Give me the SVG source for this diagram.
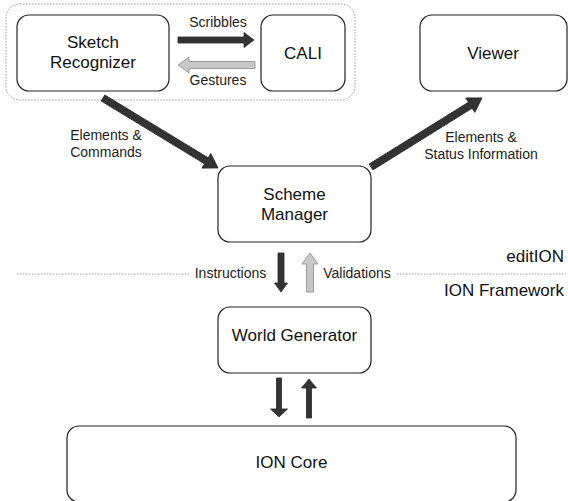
<svg xmlns="http://www.w3.org/2000/svg" width="568" height="501" viewBox="0 0 568 501">
<style>
.box{fill:#fff;stroke:#222;stroke-width:1.2}
.t{font-family:"Liberation Sans",Arial,sans-serif;font-size:17px;fill:#111;text-anchor:middle}
.s{font-family:"Liberation Sans",Arial,sans-serif;font-size:14px;fill:#222;text-anchor:middle}
.dark{fill:#333;stroke:#2a2a2a;stroke-width:0.8}
.light{fill:#c8c8c8;stroke:#8a8a8a;stroke-width:0.8}
.dot{fill:none;stroke:#999;stroke-width:1;stroke-dasharray:1.5,1.5}
</style>
<rect class="dot" x="6" y="4" width="349" height="96" rx="14"/>
<line class="dot" x1="17" y1="274" x2="189" y2="274"/>
<line class="dot" x1="397" y1="274" x2="566" y2="274"/>
<g id="sketch"><rect class="box" x="17" y="15" width="152" height="76" rx="12"/><text class="t" x="93" y="48">Sketch</text><text class="t" x="93" y="68">Recognizer</text></g>
<g id="cali"><rect class="box" x="261" y="15" width="84" height="76" rx="12"/><text class="t" x="303" y="59">CALI</text></g>
<g id="viewer"><rect class="box" x="420" y="15" width="147" height="76" rx="12"/><text class="t" x="493" y="59">Viewer</text></g>
<g id="scheme"><rect class="box" x="218" y="166" width="153" height="76" rx="12"/><text class="t" x="294.5" y="200">Scheme</text><text class="t" x="294.5" y="220">Manager</text></g>
<g id="world"><rect class="box" x="218" y="307" width="153" height="66" rx="12"/><text class="t" x="294.5" y="341">World Generator</text></g>
<g id="core"><rect class="box" x="67" y="426" width="449" height="76" rx="12"/><text class="t" x="291.5" y="468">ION Core</text></g>
<g id="labels">
<text class="t" x="564" y="262" style="text-anchor:end">editION</text>
<text class="t" x="564" y="296" style="text-anchor:end">ION Framework</text>
</g>
<g id="connectors">
<polygon class="dark" points="178,37 244,37 244,32.5 254,40 244,47.5 244,43 178,43"/>
<text class="s" x="218" y="27">Scribbles</text>
<polygon class="light" points="255,61.5 189,61.5 189,57 178,65 189,73 189,68.5 255,68.5"/>
<text class="s" x="218" y="85">Gestures</text>
<polygon class="dark" points="0,-3.5 121,-3.5 121,-8.5 134.6,0 121,8.5 121,3.5 0,3.5" transform="translate(103,98) rotate(31.3)"/>
<text class="s" x="106" y="140">Elements &amp;</text>
<text class="s" x="106" y="157">Commands</text>
<polygon class="dark" points="0,-3.5 117,-3.5 117,-8.5 130.7,0 117,8.5 117,3.5 0,3.5" transform="translate(371,167) rotate(-31.9)"/>
<text class="s" x="481" y="142">Elements &amp;</text>
<text class="s" x="481" y="159">Status Information</text>
<polygon class="dark" points="278,253 284,253 284,283 287.5,283 281,292 274.5,283 278,283"/>
<text class="s" x="230.5" y="278">Instructions</text>
<polygon class="light" points="306.5,292 313.5,292 313.5,264 318,264 310,253 302,264 306.5,264"/>
<text class="s" x="357" y="278">Validations</text>
<polygon class="dark" points="276.5,378 281.5,378 281.5,409 287.5,409 279,417 270.5,409 276.5,409"/>
<polygon class="dark" points="306.5,418 311.5,418 311.5,388 316.5,388 309,379 301.5,388 306.5,388"/>
</g>
</svg>
